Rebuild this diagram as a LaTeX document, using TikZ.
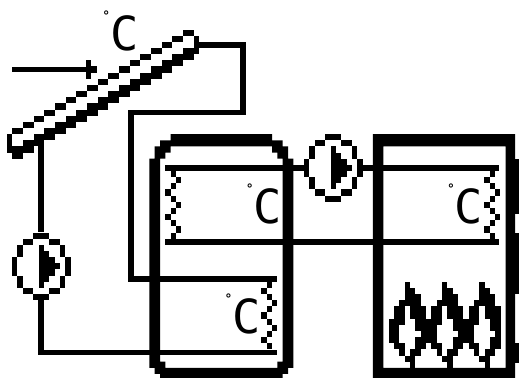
\documentclass[tikz,border=0pt]{standalone}
\usepackage{fontspec}
\newfontfamily\lcdfont{DejaVu Sans Mono}
\usetikzlibrary{shapes.geometric, positioning}

\newcommand{\degC}{\smash{\raisebox{30pt}{\fontsize{13}{13}\bfseries\selectfont °}}C}

\tikzset{
  pics/pumpicon/.style={code={
    \foreach \cx/\rx/\wx/\hx in {4/0/3/1, 2/1/2/1, 7/1/2/1, 1/2/1/2, 9/2/1/2, 0/4/1/3, 10/4/1/3,
        1/7/1/2, 9/7/1/2, 2/9/2/1, 7/9/2/1, 4/10/3/1, 5/2/1/7, 6/3/1/5, 7/4/1/3, 8/5/1/1}
      {\fill (\cx-5.5,\rx-5.5) rectangle ++(\wx,\hx);}
  }},
  pics/coilicon/.style={code={
    \foreach \cx [count=\rx from 0] in {#1}
      {\fill (\cx,\rx) rectangle ++(1,1);}
  }},
  pics/flameicon/.style={code={
    \foreach \cx/\rx/\wx in {3/0/1, 3/1/2, 3/2/3, 2/3/4, 1/4/2, 4/4/3, 1/5/2, 4/5/3, 0/6/3, 5/6/2,
        0/7/2, 5/7/2, 0/8/2, 6/8/1, 0/9/2, 5/9/2, 1/10/2, 5/10/2, 2/11/1, 4/11/2, 3/12/2, 4/13/1}
      {\fill (\cx,\rx) rectangle ++(\wx,1);}
  }},
}

\begin{document}
\begin{tikzpicture}[
      x=5.333pt, y=-6.15pt,
      pipe/.style={line width=5.7pt},
      pumpnode/.style={ellipse, minimum width=58.67pt, minimum height=67.65pt, inner sep=0pt},
      templabel/.style={font=\lcdfont\fontsize{47}{47}\selectfont, inner sep=0pt},
    ]
      \useasboundingbox (0,0.195) rectangle (97.31,61.5);

      % collector
      \foreach \k in {0,...,16} {
        \fill (2.31+2*\k,21-\k) rectangle ++(2,1);
        \fill (2.31+2*\k,24-\k) rectangle ++(2,2);
      }
      \fill (1.31,22) rectangle ++(1,3);
      \fill (36.31,6) rectangle ++(1,3);

      % sun arrow
      \coordinate (sunA) at (2.31,11.5);
      \coordinate (sunB) at (16.1,11.5);
      \draw[pipe] (sunA)--(sunB);
      \fill (16.1,10) rectangle ++(1,3);
      \fill (17.1,11) rectangle ++(1,1);

      % store tank
      \fill[even odd rule]
        (32,22)--(51,22)--(51,23)--(53,23)--(53,24)--(54,24)--(54,26)--(55,26)
        --(55,60)--(54,60)--(54,61)--(53,61)--(53,62)--(30,62)--(30,61)--(29,61)
        --(29,60)--(28,60)--(28,26)--(29,26)--(29,24)--(30,24)--(30,23)--(32,23)--cycle
        (32,24)--(51,24)--(51,25)--(52,25)--(52,26)--(53,26)--(53,59)--(52,59)
        --(52,60)--(31,60)--(31,59)--(30,59)--(30,26)--(31,26)--(31,25)--(32,25)--cycle;

      % boiler
      \fill[even odd rule] (69.9,22) rectangle (96.6,62) (71.9,24) rectangle (94.8,60);
      \fill (96.6,26) rectangle (97.4,35);
      \fill (96.6,38) rectangle (97.4,48);
      \fill (96.6,56) rectangle (97.4,59.2);

      % pumps
      \node[pumpnode] (pumpB) at (62.5,27.5) {};
      \node[pumpnode] (pumpA) at (7.75,43.5) {};
      \pic at (pumpB) {pumpicon};
      \pic at (pumpA) {pumpicon};

      % coils
      \pic at (31,28) {coilicon={1,2,1,0,1,2,1,0,1,2,1}};
      \pic at (90.8,28) {coilicon={1,0,1,2,1,0,1,2,1,0,1}};
      \pic at (49,46) {coilicon={1,0,1,2,1,0,1,2,1,0,1}};

      % flames
      \foreach \n in {0,1,2}
        \pic at (72.875+7*\n,46) {flameicon};

      % pipe ends
      \coordinate (collOut) at (36.8,7.5);
      \coordinate (collIn) at (7.75,24);
      \coordinate (riserTop) at (45.5,18.5);
      \coordinate (riserBot) at (24.5,45.5);
      \coordinate (lowCoilT) at (52,45.5);
      \coordinate (lowCoilB) at (52,57.5);
      \coordinate (topCoilL) at (31,27.5);
      \coordinate (topCoilR) at (93.6,27.5);
      \coordinate (retCoilL) at (31,39.5);
      \coordinate (retCoilR) at (93.6,39.5);

      \draw[pipe] (collOut)-|(riserTop)-|(riserBot)--(lowCoilT);
      \draw[pipe] (collIn)--(pumpA.north);
      \draw[pipe] (pumpA.south)|-(lowCoilB);
      \draw[pipe] (topCoilL)--(pumpB.west);
      \draw[pipe] (pumpB.east)--(topCoilR);
      \draw[pipe] (retCoilL)--(retCoilR);

      % sensors
      \node[templabel] (tempColl) at (22.6,5.65) {\degC};
      \node[templabel] (tempStore) at (49.5,33.7) {\degC};
      \node[templabel] (tempBoil) at (87.2,33.7) {\degC};
      \node[templabel] (tempLow) at (45.5,51.7) {\degC};
    \end{tikzpicture}
\end{document}
